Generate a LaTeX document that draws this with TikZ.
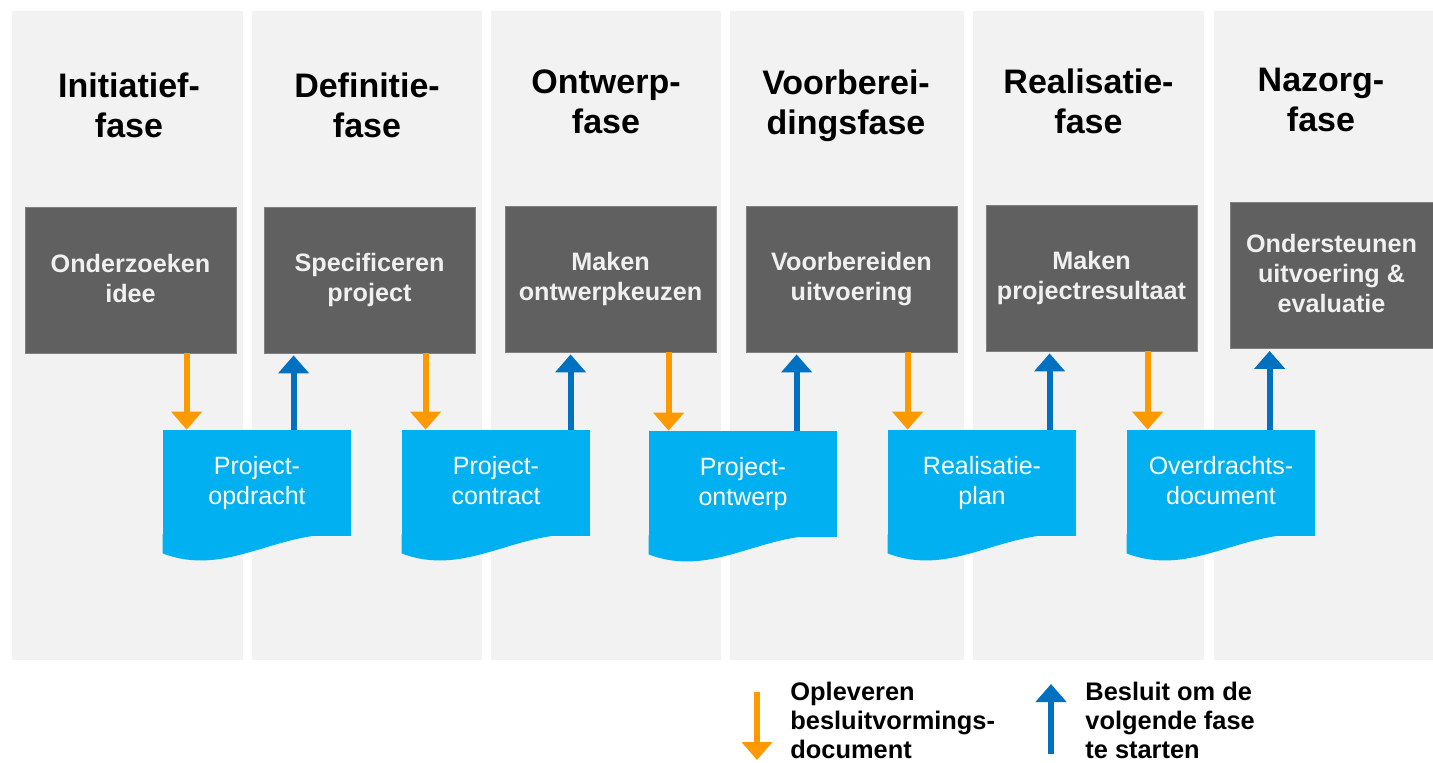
\documentclass[tikz,border=0pt]{standalone}
\usepackage{fontspec}
\setmainfont{Liberation Sans}
\usetikzlibrary{arrows.meta}
\definecolor{colgray}{HTML}{F2F2F2}
\definecolor{boxgray}{HTML}{606060}
\definecolor{docblue}{HTML}{00B0F0}
\definecolor{arrorange}{HTML}{FF9900}
\definecolor{arrblue}{HTML}{0070C0}
\begin{document}
\begin{tikzpicture}[x=0.5pt, y=-0.5pt,
  phase/.style={anchor=north, align=center, inner sep=0pt, font=\fontsize{17}{20}\selectfont\bfseries,
    execute at begin node={\rule{0pt}{14pt}}},
  task/.style={fill=boxgray, draw=gray, line width=0.4pt, text=white!94!black, align=center,
    minimum width=105.5pt, minimum height=73pt, inner sep=0pt, font=\fontsize{12.6}{15}\selectfont\bfseries,
    execute at begin node={\rule{0pt}{15pt}}, execute at end node={\rule[-2pt]{0pt}{2pt}}},
  doc/.style={fill=docblue, text=white, align=center, minimum width=94pt, minimum height=53pt,
    inner sep=0pt, font=\fontsize{12.5}{15}\selectfont,
    execute at begin node={\rule{0pt}{13.5pt}}, execute at end node={\rule[-2.5pt]{0pt}{2.5pt}}},
  deliver/.style={arrorange, line width=3pt, -{Triangle[width=15pt,length=9pt]}},
  decide/.style={arrblue, line width=3pt, shorten >=1pt, -{Triangle[width=15pt,length=9pt]}},
  legend/.style={anchor=north west, align=left, inner sep=0pt, font=\fontsize{12.7}{14.5}\selectfont\bfseries}]
  \useasboundingbox (0,0) rectangle (1433,762);
  % phase columns
  \fill[colgray] (12,11) rectangle (243,660);
  \fill[colgray] (252,11) rectangle (482,660);
  \fill[colgray] (491,11) rectangle (721,660);
  \fill[colgray] (730,11) rectangle (964,660);
  \fill[colgray] (973,11) rectangle (1204,660);
  \fill[colgray] (1214,11) rectangle (1433,660);
  % headings
  \node[phase] (h1) at (129,72) {Initiatief-\\fase};
  \node[phase] (h2) at (367,72) {Definitie-\\fase};
  \node[phase] (h3) at (606,69) {Ontwerp-\\fase};
  \node[phase] (h4) at (846,69) {Voorberei-\\dingsfase};
  \node[phase] (h5) at (1088.5,68) {Realisatie-\\fase};
  \node[phase] (h6) at (1321,68) {Nazorg-\\fase};
  % activities
  \node[task] (b1) at (130.5,280) {Onderzoeken\\idee};
  \node[task] (b2) at (369.5,280) {Specificeren\\project};
  \node[task] (b3) at (610.5,279) {Maken\\ontwerpkeuzen};
  \node[task] (b4) at (851.5,279) {Voorbereiden\\uitvoering};
  \node[task] (b5) at (1091.5,278) {Maken\\projectresultaat};
  \node[task, minimum width=101.5pt] (b6) at (1331.5,275.5) {Ondersteunen\\uitvoering \&\\evaluatie};
  % documents
  \node[doc] (d1) at (257,483) {Project-\\opdracht};
  \fill[docblue] ([yshift=1pt]d1.south west) -- ++(0,19) .. controls +(66,25) and +(-75,-6) .. ([yshift=1pt]d1.south east) -- cycle;
  \node[doc] (d2) at (496,483) {Project-\\contract};
  \fill[docblue] ([yshift=1pt]d2.south west) -- ++(0,19) .. controls +(66,25) and +(-75,-6) .. ([yshift=1pt]d2.south east) -- cycle;
  \node[doc] (d3) at (743,484) {Project-\\ontwerp};
  \fill[docblue] ([yshift=1pt]d3.south west) -- ++(0,19) .. controls +(66,25) and +(-75,-6) .. ([yshift=1pt]d3.south east) -- cycle;
  \node[doc] (d4) at (982,483) {Realisatie-\\plan};
  \fill[docblue] ([yshift=1pt]d4.south west) -- ++(0,19) .. controls +(66,25) and +(-75,-6) .. ([yshift=1pt]d4.south east) -- cycle;
  \node[doc] (d5) at (1221,483) {Overdrachts-\\document};
  \fill[docblue] ([yshift=1pt]d5.south west) -- ++(0,19) .. controls +(66,25) and +(-75,-6) .. ([yshift=1pt]d5.south east) -- cycle;
  % deliveries and decisions
  \draw[deliver] ([xshift=81pt]b1.south west) -- ([xshift=12pt]d1.north west);
  \draw[decide] ([xshift=65.5pt]d1.north west) -- ([xshift=15pt]b2.south west);
  \draw[deliver] ([xshift=81pt]b2.south west) -- ([xshift=12pt]d2.north west);
  \draw[decide] ([xshift=84.5pt]d2.north west) -- ([xshift=33pt]b3.south west);
  \draw[deliver] ([xshift=82pt]b3.south west) -- ([xshift=10pt]d3.north west);
  \draw[decide] ([xshift=74pt]d3.north west) -- ([xshift=25.5pt]b4.south west);
  \draw[deliver] ([xshift=81pt]b4.south west) -- ([xshift=10pt]d4.north west);
  \draw[decide] ([xshift=81pt]d4.north west) -- ([xshift=32pt]b5.south west);
  \draw[deliver] ([xshift=81pt]b5.south west) -- ([xshift=10.5pt]d5.north west);
  \draw[decide] ([xshift=71.5pt]d5.north west) -- ([xshift=20pt]b6.south west);
  % legend
  \node[legend] (l1) at (790,682) {Opleveren\\besluitvormings-\\document};
  \node[legend] (l2) at (1085,682) {Besluit om de\\volgende fase\\te starten};
  \coordinate (o1) at (757,692);
  \coordinate (o2) at (757,760);
  \coordinate (u1) at (1051,754);
  \coordinate (u2) at (1051,684);
  \draw[deliver] (o1) -- (o2);
  \draw[decide, shorten >=0pt] (u1) -- (u2);
\end{tikzpicture}
\end{document}
